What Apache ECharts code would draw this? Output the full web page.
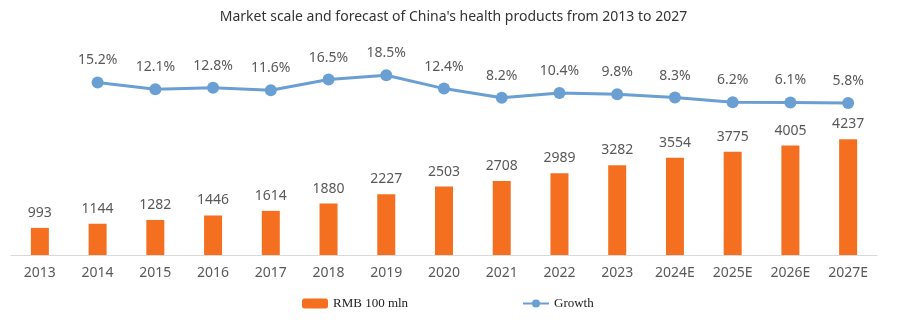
<!DOCTYPE html>
<html><head><meta charset="utf-8">
<script src="https://cdn.jsdelivr.net/npm/echarts@6/dist/echarts.min.js"></script>
<style>html,body{margin:0;padding:0;background:#fff}#c{width:907px;height:328px}</style>
</head><body><div id="c"></div>
<script>
const categories = ['2013','2014','2015','2016','2017','2018','2019','2020','2021','2022','2023','2024E','2025E','2026E','2027E'];
const marketScale = [993,1144,1282,1446,1614,1880,2227,2503,2708,2989,3282,3554,3775,4005,4237];
const growth = [15.2,12.1,12.8,11.6,16.5,18.5,12.4,8.2,10.4,9.8,8.3,6.2,6.1,5.8];
const growthData = [null].concat(growth);
const chart = echarts.init(document.getElementById('c'));
chart.setOption({
  animation:false,
  title:{text:"Market scale and forecast of China's health products from 2013 to 2027",left:'center',top:5,
    textStyle:{fontFamily:'Noto Sans',fontSize:14,fontWeight:'normal',color:'#333'}},
  legend:[
    {data:['RMB 100 mln'],left:297,top:292,itemWidth:26,itemHeight:10,
      textStyle:{fontFamily:'Liberation Serif',fontSize:13,color:'#222'}},
    {data:['Growth'],left:517,top:292,itemWidth:26,itemHeight:10,
      textStyle:{fontFamily:'Liberation Serif',fontSize:13,color:'#222'}}
  ],
  grid:{left:11,right:30,top:50,bottom:73},
  xAxis:{type:'category',data:categories,
    axisLine:{lineStyle:{color:'#d9d9d9'}},axisTick:{show:false},
    axisLabel:{fontFamily:'Noto Sans',fontSize:14,color:'#595959',margin:11}},
  yAxis:[
    {type:'value',min:0,max:7500,show:false,splitLine:{show:false}},
    {type:'value',min:-63.5,max:30,show:false,splitLine:{show:false}}
  ],
  series:[
    {name:'RMB 100 mln',type:'bar',data:marketScale,barWidth:18,yAxisIndex:0,
      itemStyle:{color:'#F47020'},
      label:{show:true,position:'top',distance:8,fontFamily:'Noto Sans',fontSize:14,color:'#595959'}},
    {name:'Growth',type:'line',data:growthData,yAxisIndex:1,symbol:'circle',symbolSize:12,
      lineStyle:{color:'#6A9FD3',width:3},itemStyle:{color:'#6A9FD3'},
      label:{show:true,position:'top',distance:9,fontFamily:'Noto Sans',fontSize:14,color:'#595959',
        formatter:p=>p.value.toFixed(1)+'%'}}
  ]
});
</script></body></html>
